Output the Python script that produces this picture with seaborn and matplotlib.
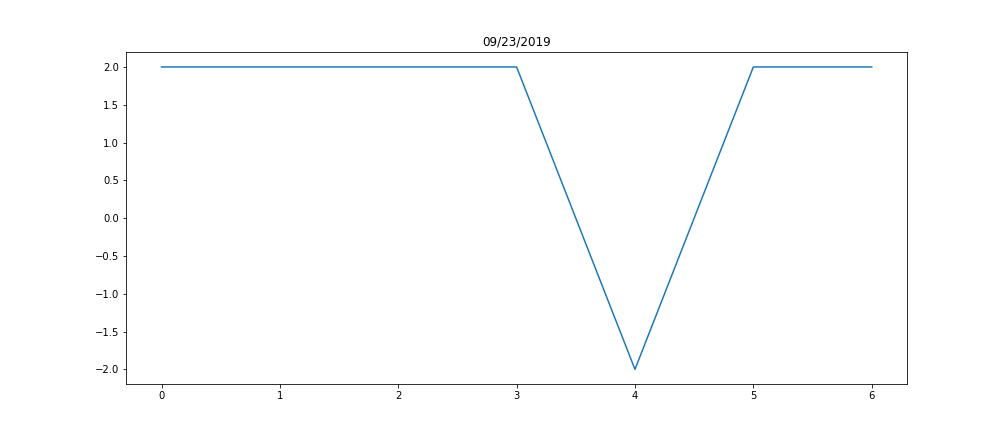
import matplotlib
matplotlib.use("Agg")
import matplotlib.pyplot as plt
import seaborn as sns

X_VALUES = [0, 1, 2, 3, 4, 5, 6]
Y_VALUES = [2, 2, 2, 2, -2, 2, 2]
TITLE = "09/23/2019"

fig, ax = plt.subplots(figsize=(14, 6), dpi=72)
sns.lineplot(x=X_VALUES, y=Y_VALUES, ax=ax, color="#1f77b4")
ax.set_title(TITLE)
fig.savefig("out.png", dpi=72)
